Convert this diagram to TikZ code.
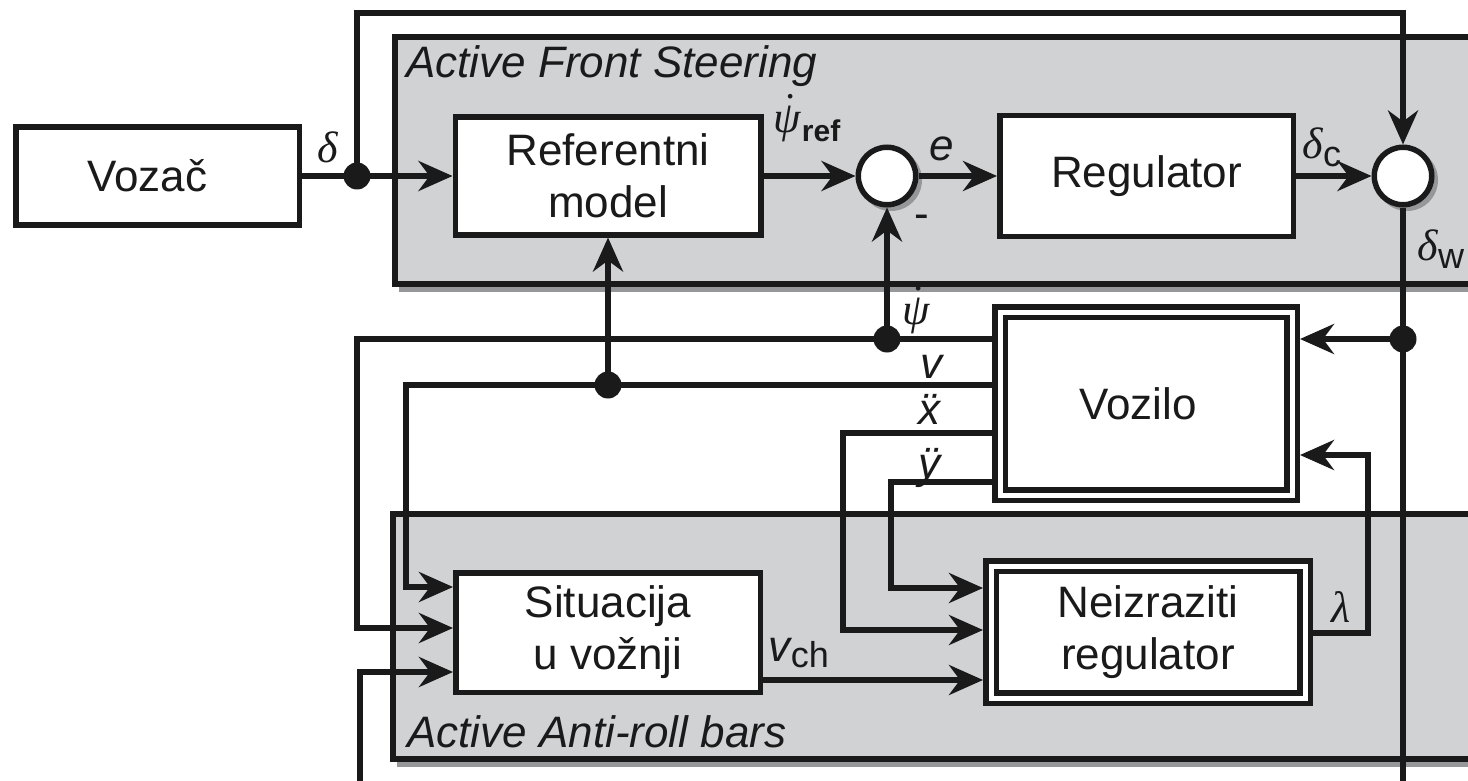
\documentclass[tikz,border=0pt]{standalone}
\usepackage{fontspec}
\setmainfont{Liberation Sans}
\setsansfont{Liberation Sans}
\newfontfamily\grkfont{Liberation Serif}
\usetikzlibrary{arrows.meta}
\definecolor{panelgrey}{RGB}{209,210,212}
\definecolor{shadegrey}{RGB}{150,151,153}
\definecolor{ink}{RGB}{26,26,26}
\newcommand{\bigsz}{\fontsize{44}{52}\selectfont}
\newcommand{\gk}[1]{{\grkfont\itshape #1}}
\newcommand{\lowsub}[2]{\raisebox{-#1pt}{\fontsize{36}{36}\selectfont #2}}
\newcommand{\accover}[3]{\ooalign{#2\cr\hidewidth\raisebox{#3}{#1}\hidewidth\cr}}
\tikzset{
  x=1pt, y=-1pt,
  every node/.style={font=\bigsz, text=ink, inner sep=0pt},
  blk/.style={rectangle, draw=ink, line width=5.5pt, fill=white, align=center},
  dbl/.style={rectangle, draw=ink, line width=5.5pt, double=white, double distance=5pt, fill=white, outer sep=8pt, align=center},
  sumnode/.style={circle, draw=ink, line width=5.5pt, fill=white, minimum size=57.5pt},
  dotnode/.style={circle, fill=ink, minimum size=27pt},
  wire/.style={draw=ink, line width=5.5pt},
  conn/.style={wire, -{Stealth[length=34pt, width=30pt, inset=11pt]}},
  paneltitle/.style={anchor=base west, font=\bigsz\itshape},
}
\begin{document}
\begin{tikzpicture}
\useasboundingbox (0,0) rectangle (1468,781);
\clip (0,0) rectangle (1468,781);
% panels with shadows
\fill[shadegrey] (399,45) rectangle (1530,292);
\path[fill=panelgrey, draw=ink, line width=5.5pt] (395,37) rectangle (1520,284);
\fill[shadegrey] (397,522) rectangle (1530,767);
\path[fill=panelgrey, draw=ink, line width=5.5pt] (393,514) rectangle (1520,759);
\node[paneltitle] (tafs) at (406,78) {Active Front Steering};
\node[paneltitle] (taar) at (407,747) {Active Anti-roll bars};
% circle shadows
\fill[shadegrey] (891,180) circle[radius=31pt];
\fill[shadegrey] (1407,180) circle[radius=31pt];
% blocks
\node[blk, minimum width=283.5pt, minimum height=97.5pt] (voz) at (157.5,176) {Vozač\hspace*{20pt}};
\node[blk, minimum width=305.5pt, minimum height=117.5pt] (ref) at (608,176) {Referentni\\model};
\node[sumnode] (c1) at (887,176) {};
\node[blk, minimum width=293.5pt, minimum height=120.5pt] (reg) at (1146.5,176) {Regulator};
\node[sumnode] (c2) at (1403,176) {};
\node[dbl, minimum width=292pt, minimum height=183pt] (voz2) at (1146,403.5) {Vozilo\hspace*{16pt}};
\node[blk, minimum width=304.5pt, minimum height=119.5pt] (sit) at (608,632.5) {Situacija\\u vožnji};
\node[dbl, minimum width=314pt, minimum height=132pt] (neiz) at (1148,632) {Neizraziti\\regulator};
% junction coordinates
\coordinate (j1) at (357,176);
\coordinate (j2) at (887,339);
\coordinate (j3) at (1403,339);
\coordinate (j4) at (608,385);
% connectors
\draw[conn] (voz.east) -- (ref.west);
\draw[conn] (j1) -- (j1 |- 0,13) -- (c2 |- 0,13) -- (c2.north);
\draw[conn] (ref.east) -- (c1.west);
\draw[conn] (c1.east) -- (reg.west);
\draw[conn] (reg.east) -- (c2.west);
\draw[wire] (c2.south) -- (c2 |- 0,800);
\draw[conn] (j3) -- (voz2.east |- j3);
\draw[conn] (voz2.west |- j2) -- (357,339) -- (357,628) -- (sit.west |- 0,628);
\draw[conn] (j2) -- (c1.south);
\draw[conn] (voz2.west |- j4) -- (406,385) -- (406,587) -- (sit.west |- 0,587);
\draw[conn] (j4) -- (ref.south);
\draw[conn] (voz2.west |- 0,433) -- (843,433) -- (843,630) -- (neiz.west |- 0,630);
\draw[conn] (voz2.west |- 0,482) -- (891,482) -- (891,588) -- (neiz.west |- 0,588);
\draw[conn] (sit.east |- 0,680) -- (neiz.west |- 0,680);
\draw[conn] (neiz.east |- 0,633) -- (1368,633) -- (1368,455) -- (voz2.east |- 0,455);
\draw[conn] (360,800) -- (360,672) -- (sit.west |- 0,672);
% junction dots
\node[dotnode] (dj1) at (j1) {};
\node[dotnode] (dj2) at (j2) {};
\node[dotnode] (dj3) at (j3) {};
\node[dotnode] (dj4) at (j4) {};
% labels
\node (ldelta) at (328,147) {\gk{δ}};
\node (lpsiref) at (807,124) {\gk{\accover{˙}{ψ}{9pt}}\kern1pt\raisebox{-9pt}{\fontsize{30}{30}\selectfont\bfseries ref}};
\node (le) at (942,149) {\itshape e};
\node (lminus) at (922,222) {-};
\node (ldc) at (1322,147) {\gk{δ}\lowsub{8}{c}};
\node (ldw) at (1441,249) {\gk{δ}\lowsub{8}{w}};
\node (lpsi) at (916,311) {\gk{\accover{˙}{ψ}{9pt}}};
\node (lv) at (931,367) {\itshape v};
\node (lxdd) at (929,413) {\itshape\accover{¨}{x}{0pt}};
\node (lydd) at (929,468) {\itshape ÿ};
\node (llam) at (1341,607) {\gk{λ}};
\node (lvch) at (799,653) {\itshape v\upshape\lowsub{6}{ch}};
\end{tikzpicture}
\end{document}
